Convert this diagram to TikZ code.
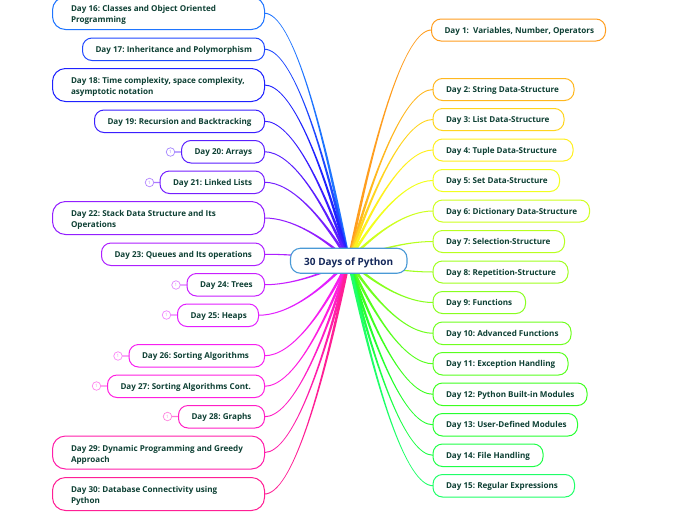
\documentclass[tikz,border=0pt]{standalone}
\usepackage{fontspec}
\setmainfont{Open Sans}
\usetikzlibrary{backgrounds}
\definecolor{txt}{HTML}{0E4034}
\definecolor{hubtxt}{HTML}{14285A}
\definecolor{hubline}{HTML}{4A9AD6}
\tikzset{
  x=1pt,y=-1pt,
  daybox/.style={rounded corners=9.5pt,line width=1pt,fill=white,text=txt,align=left,inner xsep=0pt,inner ysep=0pt,outer sep=0pt,font=\fontsize{8.1}{11}\selectfont\bfseries\frenchspacing},
  onebox/.style={text height=6.4pt,text depth=.4pt},
  tallbox/.style={rounded corners=13pt},
  hubbox/.style={rounded corners=10pt,line width=1.1pt,draw=hubline,fill=white,text=hubtxt,inner sep=0pt,outer sep=0pt,minimum width=116.5pt,minimum height=25pt,text height=9pt,text depth=.4pt,font=\fontsize{10}{11}\selectfont\bfseries},
  badge/.style={circle,line width=.7pt,inner sep=0pt,outer sep=0pt,minimum size=8.5pt,fill=white,font=\fontsize{4.5}{5}\selectfont},
  stub/.style={line width=1.3pt}
}
% name, x1, x2, y1, y2, colour, text  (one line, inset 13)
\newcommand\daynode[7]{%
  \definecolor{col#1}{HTML}{#6}%
  \pgfmathsetmacro\tw{#3-#2-26}%
  \pgfmathsetmacro\bw{#3-#2}%
  \pgfmathsetmacro\bh{#5-#4}%
  \node[daybox,onebox,draw=col#1,minimum width=\bw pt,minimum height=\bh pt] (#1) at ({(#2+#3)/2},{(#4+#5)/2}) {\makebox[\tw pt][l]{#7}};%
}
% name, x1, x2, y1, y2, colour, line 1, line 2  (inset 18.5)
\newcommand\talldaynode[8]{%
  \definecolor{col#1}{HTML}{#6}%
  \pgfmathsetmacro\tw{#3-#2-37}%
  \pgfmathsetmacro\bw{#3-#2}%
  \pgfmathsetmacro\bh{#5-#4}%
  \node[daybox,tallbox,draw=col#1,minimum width=\bw pt,minimum height=\bh pt] (#1) at ({(#2+#3)/2},{(#4+#5)/2}) {\rule{0pt}{10.3pt}\makebox[\tw pt][l]{#7}\\\rule[-2pt]{0pt}{2pt}\makebox[\tw pt][l]{#8}};%
}
% badge name, box name, x, y
\newcommand\daybadge[4]{%
  \node[badge,draw=col#2!55,text=col#2!55] (#1) at (#3,#4) {1};%
  \draw[stub,col#2!60] (#1) -- (#2);%
}
% box name, anchor: tapered connector from hub
\newcommand\spoke[2]{%
  \pgfpointanchor{hub}{center}\pgfgetlastxy{\xra}{\yra}%
  \pgfpointanchor{#1}{#2}\pgfgetlastxy{\xrb}{\yrb}%
  \pgfmathsetmacro\xa{\xra+0}\pgfmathsetmacro\ya{\yra+0}%
  \pgfmathsetmacro\xb{\xrb+0}\pgfmathsetmacro\yb{\yrb+0}%
  \pgfmathsetmacro\dxx{\xb-\xa}\pgfmathsetmacro\dyy{\yb-\ya}%
  \pgfmathsetmacro\ux{0.32*\dxx}\pgfmathsetmacro\uy{0.57*\dyy}%
  \pgfmathsetmacro\ulen{veclen(\ux,\uy)}%
  \pgfmathsetmacro\nx{-\uy/\ulen*1.6}\pgfmathsetmacro\ny{\ux/\ulen*1.6}%
  \pgfmathsetmacro\ee{(\dxx>0?1:-1)*0.5}%
  \pgfmathsetmacro\cxa{\xa+\ux}\pgfmathsetmacro\cya{\ya+\uy}%
  \pgfmathsetmacro\cxb{\xb-\ux}%
  \fill[col#1]
    ({(\xa+\nx)*1pt},{(\ya+\ny)*1pt})
    .. controls ({(\cxa+0.5*\nx)*1pt},{(\cya+0.5*\ny)*1pt}) and ({\cxb*1pt},{(\yb+\ee)*1pt}) .. ({\xb*1pt},{(\yb+\ee)*1pt})
    -- ({\xb*1pt},{(\yb-\ee)*1pt})
    .. controls ({\cxb*1pt},{(\yb-\ee)*1pt}) and ({(\cxa-0.5*\nx)*1pt},{(\cya-0.5*\ny)*1pt}) .. ({(\xa-\nx)*1pt},{(\ya-\ny)*1pt})
    -- cycle;%
}
\begin{document}
\begin{tikzpicture}
\useasboundingbox (0,0) rectangle (696,520);
\node[hubbox] (hub) at (348.75,260.75) {30 Days of Python};
% right
\daynode{d1}{431.5}{605.5}{19}{41}{FF9E1F}{Day 1:\ \ Variables, Number, Operators}
\daynode{d2}{433}{574}{78.5}{100.5}{FFB81F}{Day 2: String Data-Structure}
\daynode{d3}{433}{564}{108.5}{130.5}{FFD51F}{Day 3: List Data-Structure}
\daynode{d4}{433}{573}{139}{161}{FFF01F}{Day 4: Tuple Data-Structure}
\daynode{d5}{433}{559.5}{169.5}{191.5}{F2FF1F}{Day 5: Set Data-Structure}
\daynode{d6}{433}{589.5}{200}{222}{CFFF1F}{Day 6: Dictionary Data-Structure}
\daynode{d7}{433}{564.5}{230.5}{252.5}{B8FF1F}{Day 7: Selection-Structure}
\daynode{d8}{433}{568}{261}{283}{A0FF1F}{Day 8: Repetition-Structure}
\daynode{d9}{433}{525.5}{291.5}{313.5}{88FF1F}{Day 9: Functions}
\daynode{d10}{433}{571}{322}{344.5}{70FF1F}{Day 10: Advanced Functions}
\daynode{d11}{433}{568}{352.5}{375}{58FF1F}{Day 11: Exception Handling}
\daynode{d12}{433}{587}{383}{405.5}{3DFF1F}{Day 12: Python Built-in Modules}
\daynode{d13}{433}{577.5}{413.5}{436}{26FF30}{Day 13: User-Defined Modules}
\daynode{d14}{433}{543}{444}{466.5}{1FFF48}{Day 14: File Handling}
\daynode{d15}{433}{574.5}{474.5}{497}{1FFF68}{Day 15: Regular Expressions}
% left
\talldaynode{d16}{52.5}{264.5}{-3}{29.5}{1F75FF}{Day 16: Classes and Object Oriented}{Programming}
\daynode{d17}{82.5}{264.5}{38}{60.5}{1F48FF}{Day 17: Inheritance and Polymorphism}
\talldaynode{d18}{52.5}{264.5}{68.5}{101.5}{1F22FF}{Day 18: Time complexity, space complexity,}{asymptotic notation}
\daynode{d19}{94.5}{264.5}{110}{132.5}{3A1FFF}{Day 19: Recursion and Backtracking}
\daynode{d20}{181.5}{264.5}{140.5}{163}{5A1FFF}{Day 20: Arrays}
\daynode{d21}{160}{264.5}{171}{193.5}{751FFF}{Day 21: Linked Lists}
\talldaynode{d22}{52.5}{264.5}{201.5}{234.5}{931FFF}{Day 22: Stack Data Structure and Its}{Operations}
\daynode{d23}{101.5}{264.5}{243}{265.5}{AD1FFF}{Day 23: Queues and Its operations}
\daynode{d24}{187}{264.5}{273.5}{296}{C81FFF}{Day 24: Trees}
\daynode{d25}{177.5}{258.5}{304}{326.5}{E31FFF}{Day 25: Heaps}
\daynode{d26}{129}{264.5}{344.5}{367}{F71FF0}{Day 26: Sorting Algorithms}
\daynode{d27}{107.5}{264.5}{375}{397.5}{FF1FE0}{Day 27: Sorting Algorithms Cont.}
\daynode{d28}{178.5}{264.5}{405.5}{428}{FF1FC5}{Day 28: Graphs}
\talldaynode{d29}{52.5}{264.5}{436}{469}{FF1FAA}{Day 29: Dynamic Programming and Greedy}{Approach}
\talldaynode{d30}{52.5}{264.5}{477.5}{510.5}{FF1F95}{Day 30: Database Connectivity using}{Python}
\begin{scope}[on background layer]
\fill[white] (0,0) rectangle (696,520);
\daybadge{b20}{d20}{170.5}{152}
\daybadge{b21}{d21}{149.5}{182.5}
\daybadge{b24}{d24}{176}{285}
\daybadge{b25}{d25}{166.5}{315}
\daybadge{b26}{d26}{118}{356}
\daybadge{b27}{d27}{96.5}{386}
\daybadge{b28}{d28}{167.5}{416.5}
\spoke{d1}{west}\spoke{d2}{west}\spoke{d3}{west}\spoke{d4}{west}\spoke{d5}{west}
\spoke{d6}{west}\spoke{d7}{west}\spoke{d8}{west}\spoke{d9}{west}\spoke{d10}{west}
\spoke{d11}{west}\spoke{d12}{west}\spoke{d13}{west}\spoke{d14}{west}\spoke{d15}{west}
\spoke{d16}{east}\spoke{d17}{east}\spoke{d18}{east}\spoke{d19}{east}\spoke{d20}{east}
\spoke{d21}{east}\spoke{d22}{east}\spoke{d23}{east}\spoke{d24}{east}\spoke{d25}{east}
\spoke{d26}{east}\spoke{d27}{east}\spoke{d28}{east}\spoke{d29}{east}\spoke{d30}{east}
\end{scope}
\end{tikzpicture}
\end{document}
